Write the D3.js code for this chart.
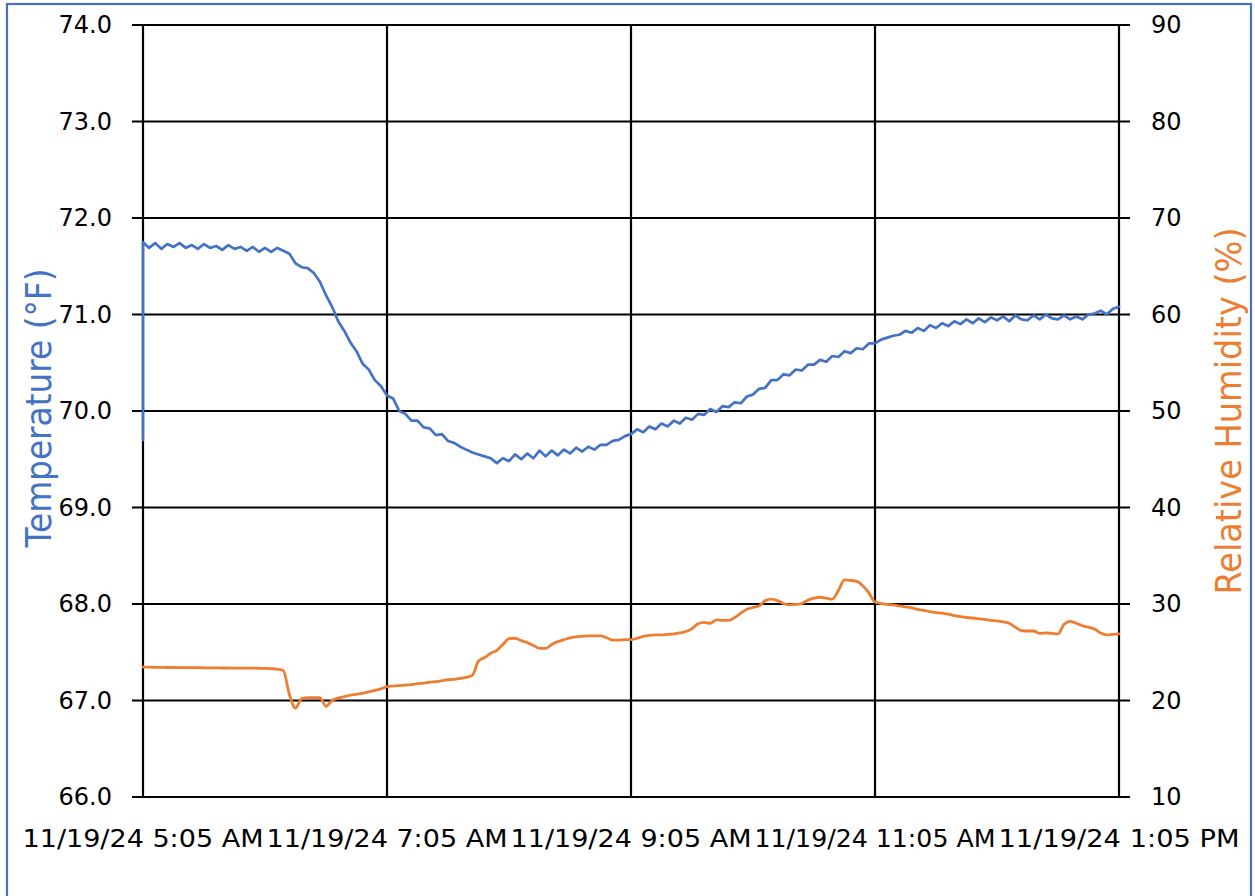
<!DOCTYPE html>
<html>
<head>
<meta charset="utf-8">
<script src="https://cdn.jsdelivr.net/npm/d3@7"></script>
<style>
  html, body { margin: 0; padding: 0; background: #fff; }
  svg { display: block; }
</style>
</head>
<body>
<svg id="chart" width="1255" height="896"></svg>
<script>
// ---------------- DATA ----------------
const startTime = "2024-11-19T05:05:00";
const endTime = "2024-11-19T13:05:00";
const sampleMinutes = 3;            // readings every 3 minutes from 5:05 AM
const tempFirstReading = 69.7;      // sensor start-up reading at 5:05 AM

const xTickLabels = ["2024-11-19T05:05:00", "2024-11-19T07:05:00", "2024-11-19T09:05:00",
                     "2024-11-19T11:05:00", "2024-11-19T13:05:00"];
const tempTicks = [66, 67, 68, 69, 70, 71, 72, 73, 74];
const humTicks = [10, 20, 30, 40, 50, 60, 70, 80, 90];

const temperature = [
  71.75, 71.69, 71.74, 71.68, 71.73, 71.70, 71.74, 71.69, 71.72, 71.68,
  71.73, 71.69, 71.71, 71.67, 71.72, 71.68, 71.70, 71.66, 71.70, 71.65,
  71.69, 71.65, 71.69, 71.66, 71.63, 71.53, 71.49, 71.48, 71.43, 71.34,
  71.20, 71.08, 70.93, 70.83, 70.71, 70.62, 70.49, 70.43, 70.32, 70.26,
  70.16, 70.13, 70.00, 69.97, 69.90, 69.90, 69.83, 69.82, 69.75, 69.76,
  69.69, 69.67, 69.63, 69.60, 69.57, 69.55, 69.53, 69.51, 69.46, 69.51,
  69.48, 69.55, 69.50, 69.56, 69.51, 69.59, 69.53, 69.59, 69.54, 69.60,
  69.56, 69.62, 69.58, 69.63, 69.60, 69.65, 69.65, 69.69, 69.70, 69.74,
  69.76, 69.81, 69.78, 69.84, 69.81, 69.87, 69.84, 69.90, 69.87, 69.93,
  69.91, 69.97, 69.96, 70.02, 69.99, 70.05, 70.04, 70.09, 70.08, 70.15,
  70.17, 70.23, 70.24, 70.32, 70.32, 70.38, 70.37, 70.43, 70.42, 70.48,
  70.48, 70.53, 70.51, 70.57, 70.56, 70.62, 70.60, 70.65, 70.64, 70.70,
  70.70, 70.74, 70.76, 70.78, 70.79, 70.83, 70.81, 70.86, 70.83, 70.89,
  70.86, 70.91, 70.88, 70.93, 70.90, 70.95, 70.91, 70.96, 70.92, 70.97,
  70.94, 70.98, 70.93, 70.99, 70.95, 70.94, 70.99, 70.95, 71.00, 70.96,
  70.95, 70.99, 70.95, 70.98, 70.95, 71.00, 71.01, 71.04, 71.00, 71.06, 71.08
];

const humidity = [
  23.47, 23.45, 23.44, 23.43, 23.42, 23.42, 23.41, 23.40, 23.40, 23.40,
  23.39, 23.38, 23.38, 23.37, 23.37, 23.36, 23.36, 23.35, 23.35, 23.34,
  23.33, 23.30, 23.25, 23.10, 20.60, 19.20, 20.20, 20.30, 20.30, 20.30,
  19.40, 20.00, 20.25, 20.40, 20.55, 20.65, 20.75, 20.90, 21.05, 21.20,
  21.45, 21.50, 21.55, 21.60, 21.65, 21.75, 21.80, 21.90, 21.95, 22.05,
  22.15, 22.20, 22.30, 22.40, 22.60, 24.10, 24.45, 24.90, 25.20, 25.80,
  26.40, 26.45, 26.20, 26.00, 25.70, 25.40, 25.40, 25.80, 26.10, 26.30,
  26.50, 26.60, 26.65, 26.70, 26.70, 26.70, 26.50, 26.25, 26.25, 26.30,
  26.30, 26.45, 26.65, 26.75, 26.80, 26.80, 26.85, 26.90, 27.00, 27.15,
  27.45, 27.95, 28.10, 28.00, 28.35, 28.30, 28.30, 28.60, 29.05, 29.45,
  29.65, 29.80, 30.35, 30.50, 30.35, 30.05, 29.90, 29.95, 30.05, 30.40,
  30.60, 30.70, 30.60, 30.50, 31.40, 32.50, 32.45, 32.35, 31.90, 31.15,
  30.20, 30.05, 29.95, 29.90, 29.80, 29.70, 29.60, 29.45, 29.35, 29.20,
  29.10, 29.05, 28.95, 28.80, 28.70, 28.60, 28.55, 28.45, 28.40, 28.30,
  28.25, 28.15, 28.00, 27.60, 27.25, 27.20, 27.20, 26.95, 27.00, 26.95,
  26.90, 27.90, 28.20, 28.00, 27.75, 27.60, 27.40, 27.00, 26.80, 26.85, 26.90
];

// ---------------- CHART ----------------
const BLUE = "#4472C4", ORANGE = "#ED7D31";
const FONT = "DejaVu Sans, Verdana, sans-serif";
const svg = d3.select("#chart");

// outer chart border
svg.append("rect").attr("x", 7).attr("y", 4).attr("width", 1244).attr("height", 1000)
  .attr("fill", "none").attr("stroke", BLUE).attr("stroke-width", 2.2);

const plot = { left: 143, right: 1119, top: 25, bottom: 797 };
const t0 = new Date(startTime), t1 = new Date(endTime);

const x = d3.scaleTime().domain([t0, t1]).range([plot.left, plot.right]);
const yT = d3.scaleLinear().domain([66, 74]).range([plot.bottom, plot.top]);
const yH = d3.scaleLinear().domain([10, 90]).range([plot.bottom, plot.top]);

const timeAt = i => d3.timeMinute.offset(t0, i * sampleMinutes);
const tempData = [{ t: t0, v: tempFirstReading }].concat(temperature.map((v, i) => ({ t: timeAt(i), v })));
const humData = humidity.map((v, i) => ({ t: timeAt(i), v }));

const g = svg.append("g");

// horizontal gridlines (extending as ticks on both sides)
g.selectAll("line.hgrid").data(tempTicks).join("line")
  .attr("x1", plot.left - 11).attr("x2", plot.right + 11)
  .attr("y1", d => yT(d)).attr("y2", d => yT(d))
  .attr("stroke", "#000").attr("stroke-width", 2.2);

// vertical gridlines
const xTicks = xTickLabels.map(s => new Date(s));
g.selectAll("line.vgrid").data(xTicks).join("line")
  .attr("x1", d => x(d)).attr("x2", d => x(d))
  .attr("y1", plot.top).attr("y2", plot.bottom)
  .attr("stroke", "#000").attr("stroke-width", 2.2);

// left axis labels
const leftAxis = d3.axisLeft(yT).tickValues(tempTicks).tickFormat(d3.format(".1f"))
  .tickSizeInner(11).tickSizeOuter(0).tickPadding(20);
const gl = svg.append("g").attr("transform", `translate(${plot.left},0)`).call(leftAxis);
gl.select(".domain").remove();
gl.selectAll(".tick line").remove();
gl.selectAll("text").attr("font-family", FONT).attr("font-size", 24).attr("fill", "#000");

// right axis labels
const rightAxis = d3.axisRight(yH).tickValues(humTicks).tickFormat(d3.format("d"))
  .tickSizeInner(11).tickSizeOuter(0).tickPadding(21);
const gr = svg.append("g").attr("transform", `translate(${plot.right},0)`).call(rightAxis);
gr.select(".domain").remove();
gr.selectAll(".tick line").remove();
gr.selectAll("text").attr("font-family", FONT).attr("font-size", 24).attr("fill", "#000");

// bottom labels
const fmt = d3.timeFormat("%m/%d/%y %-I:%M %p");
svg.append("g").selectAll("text").data(xTicks).join("text")
  .attr("x", d => x(d)).attr("y", 847)
  .attr("text-anchor", "middle")
  .attr("font-family", FONT).attr("font-size", 25).attr("fill", "#000")
  .attr("textLength", 241).attr("lengthAdjust", "spacingAndGlyphs")
  .text(d => fmt(d));

// axis titles
svg.append("text")
  .attr("transform", `translate(51,408) rotate(-90)`)
  .attr("text-anchor", "middle")
  .attr("font-family", FONT).attr("font-size", 36).attr("fill", BLUE)
  .attr("textLength", 279).attr("lengthAdjust", "spacingAndGlyphs")
  .text("Temperature (°F)");

svg.append("text")
  .attr("transform", `translate(1241,411) rotate(-90)`)
  .attr("text-anchor", "middle")
  .attr("font-family", FONT).attr("font-size", 36).attr("fill", ORANGE)
  .attr("textLength", 367).attr("lengthAdjust", "spacingAndGlyphs")
  .text("Relative Humidity (%)");

// series lines
const lineT = d3.line().x(d => x(d.t)).y(d => yT(d.v));
const lineH = d3.line().x(d => x(d.t)).y(d => yH(d.v)).curve(d3.curveMonotoneX);

svg.append("path").datum(humData)
  .attr("d", lineH).attr("fill", "none").attr("stroke", ORANGE)
  .attr("stroke-width", 2.8).attr("stroke-linejoin", "round").attr("stroke-linecap", "round");

svg.append("path").datum(tempData)
  .attr("d", lineT).attr("fill", "none").attr("stroke", BLUE)
  .attr("stroke-width", 2.7).attr("stroke-linejoin", "round").attr("stroke-linecap", "round");
</script>
</body>
</html>
